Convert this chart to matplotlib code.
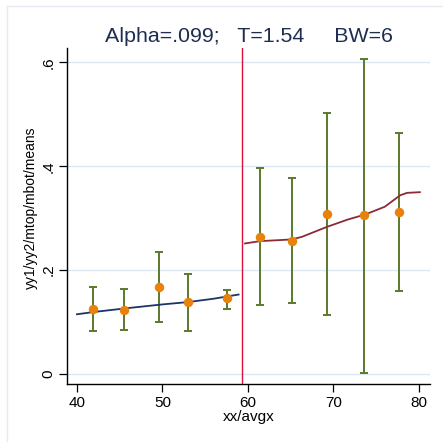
import numpy as np
import matplotlib.pyplot as plt
from matplotlib.lines import Line2D

plt.rcParams['font.family'] = ['Liberation Sans', 'DejaVu Sans']

# binned means with confidence bars
avgx = [41.9, 45.5, 49.6, 53.0, 57.6, 61.4, 65.15, 69.2, 73.6, 77.65]
means = [0.125, 0.123, 0.168, 0.138, 0.1455, 0.264, 0.257, 0.308, 0.306, 0.3115]
mtop = [0.168, 0.163, 0.235, 0.193, 0.162, 0.397, 0.377, 0.503, 0.607, 0.464]
mbot = [0.083, 0.085, 0.1005, 0.083, 0.125, 0.133, 0.136, 0.1135, 0.0025, 0.160]

# local fits left/right of cutoff
xx1 = [40.0, 42.0, 46.0, 50.0, 53.0, 56.0, 58.9]
yy1 = [0.115, 0.1195, 0.127, 0.134, 0.1385, 0.145, 0.153]
xx2 = [59.65, 61.4, 65.1, 66.3, 69.2, 71.7, 73.7, 76.0, 77.8, 78.6, 80.1]
yy2 = [0.2513, 0.2558, 0.259, 0.264, 0.283, 0.2975, 0.307, 0.322, 0.344, 0.3487, 0.350]

cutoff = 59.26
title = "Alpha=.099;   T=1.54     BW=6"

fig = plt.figure(figsize=(4.43, 4.42), dpi=100)
ax = fig.add_axes([0.1512, 0.1312, 0.8195, 0.7602])

for y in [0, 0.2, 0.4, 0.6]:
    ax.axhline(y, color='#dde6f3', lw=1.0, zorder=0)

ax.errorbar(avgx, means, yerr=[np.array(means) - np.array(mbot), np.array(mtop) - np.array(means)],
            fmt='none', ecolor='#5b7a2b', elinewidth=1.4, capsize=3.2, capthick=1.4, zorder=2)
ax.plot(xx1, yy1, color='#1c3468', lw=1.3, zorder=3)
ax.plot(xx2, yy2, color='#8c2a36', lw=1.3, zorder=3)
ax.plot(avgx, means, 'o', color='#e8820c', ms=6.8, mec='none', zorder=4)
ax.axvline(cutoff, color='#d4143c', lw=1.0, zorder=3)

ax.set_xlim(38.83, 81.29)
ax.set_ylim(-0.0192, 0.6275)
ax.set_xticks([40, 50, 60, 70, 80])
ax.set_yticks([0, 0.2, 0.4, 0.6])
ax.set_yticklabels(['0', '.2', '.4', '.6'], rotation=90, va='center')
ax.tick_params(axis='both', labelsize=11, length=5.5, width=0.9, color='black', pad=3)

ax.set_xlabel('xx/avgx', fontsize=11, labelpad=0)
ax.set_ylabel('yy1/yy2/mtop/mbot/means', fontsize=10)
ax.yaxis.set_label_coords(-0.08, 0.525)
ax.set_title(title, fontsize=15.4, color='#1e2d52', pad=4.3)

for s in ['top', 'right']:
    ax.spines[s].set_visible(False)
for s in ['left', 'bottom']:
    ax.spines[s].set_linewidth(1.0)

# outer graph region border
fig.add_artist(Line2D([7 / 443, 7 / 443], [0, 1 - 6 / 442], transform=fig.transFigure, color='#e6eaf2', lw=1))
fig.add_artist(Line2D([7 / 443, 1], [1 - 6 / 442, 1 - 6 / 442], transform=fig.transFigure, color='#e6eaf2', lw=1))

fig.savefig('out.png', dpi=100)
